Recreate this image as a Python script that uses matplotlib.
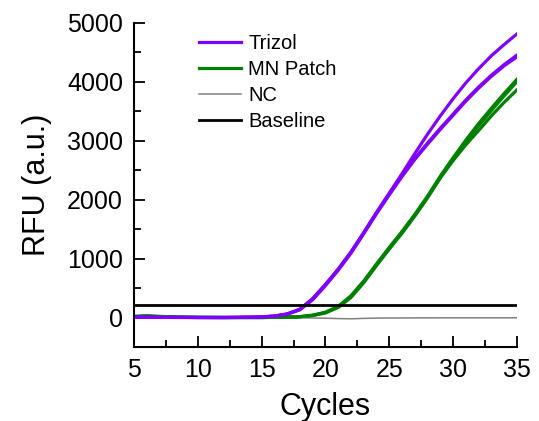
import matplotlib
matplotlib.use("Agg")
import matplotlib.pyplot as plt
import numpy as np
from matplotlib.ticker import MultipleLocator

plt.rcParams['font.family'] = ['Liberation Sans', 'DejaVu Sans']

cycles = list(range(5, 36))

# Trizol replicates
trizol_1 = [5, 5, 3, 2, 2, 0, 0, 0, 2, 5, 10, 25, 60, 140, 320, 560, 820, 1110, 1440, 1780,
            2110, 2440, 2780, 3110, 3420, 3710, 3980, 4220, 4440, 4630, 4810]
trizol_2 = [5, 5, 3, 2, 2, 0, 0, 0, 2, 5, 10, 25, 60, 140, 320, 560, 820, 1110, 1440, 1780,
            2100, 2410, 2700, 2960, 3210, 3450, 3690, 3910, 4110, 4290, 4450]
trizol_3 = [3, 3, 2, 1, 0, 0, 0, 0, 1, 4, 8, 22, 55, 130, 300, 540, 800, 1090, 1420, 1760,
            2080, 2390, 2680, 2940, 3190, 3430, 3670, 3890, 4090, 4270, 4420]

# MN patch replicates
mn_1 = [20, 30, 20, 10, 5, 3, 2, 1, 0, 0, 0, 3, 8, 15, 40, 90, 190, 370, 620, 910,
        1190, 1460, 1750, 2060, 2400, 2710, 3010, 3290, 3550, 3800, 4040]
mn_2 = [15, 25, 15, 8, 4, 2, 1, 0, 0, 0, 0, 2, 6, 12, 35, 80, 170, 340, 590, 880,
        1160, 1430, 1720, 2030, 2370, 2680, 2980, 3250, 3510, 3760, 4000]
mn_3 = [10, 20, 12, 6, 3, 1, 0, 0, 0, 0, 0, 2, 6, 12, 35, 80, 180, 350, 600, 890,
        1170, 1440, 1730, 2040, 2370, 2660, 2930, 3170, 3420, 3650, 3860]

# no-template control
nc = [0, 0, -2, -3, -3, -4, -5, -5, -5, -6, -6, -6, -5, -5, -8, -12, -18, -22, -15, -10,
      -8, -8, -6, -6, -5, -5, -5, -5, -5, -5, -5]

baseline = 215

purple = '#8000ff'
green = '#008000'

fig = plt.figure(figsize=(5.39, 4.21), dpi=100)
ax = fig.add_axes([0.2486, 0.1758, 0.7104, 0.7702])

ax.plot(cycles, nc, color='#808080', lw=1.1, label='NC')
for i, y in enumerate([mn_1, mn_2, mn_3]):
    ax.plot(cycles, y, color=green, lw=2.3, label='MN Patch' if i == 0 else None)
for i, y in enumerate([trizol_1, trizol_2, trizol_3]):
    ax.plot(cycles, y, color=purple, lw=2.3, label='Trizol' if i == 0 else None)
ax.axhline(baseline, xmin=0, xmax=1, color='black', lw=2.0, label='Baseline')

ax.set_xlim(5, 35)
ax.set_ylim(-500, 5000)
ax.xaxis.set_major_locator(MultipleLocator(5))
ax.xaxis.set_minor_locator(MultipleLocator(2.5))
ax.yaxis.set_major_locator(MultipleLocator(1000))
ax.yaxis.set_minor_locator(MultipleLocator(500))
ax.set_yticks([0, 1000, 2000, 3000, 4000, 5000])

for side in ['top', 'right']:
    ax.spines[side].set_visible(False)
for side in ['left', 'bottom']:
    ax.spines[side].set_linewidth(1.5)

ax.tick_params(which='major', direction='in', length=8, width=1.3, labelsize=18, pad=8)
ax.tick_params(which='minor', direction='in', length=5, width=1.3)

ax.set_xlabel('Cycles', fontsize=22, labelpad=7)
ax.set_ylabel('RFU (a.u.)', fontsize=22, labelpad=11)

handles, labels = ax.get_legend_handles_labels()
order = ['Trizol', 'MN Patch', 'NC', 'Baseline']
hmap = dict(zip(labels, handles))
ax.legend([hmap[k] for k in order], order, loc='upper left', frameon=False,
          fontsize=14.5, handlelength=2.1, handletextpad=0.35, labelspacing=0.35,
          borderpad=0, borderaxespad=0, bbox_to_anchor=(0.17, 0.966))

fig.savefig('out.png', dpi=100)
